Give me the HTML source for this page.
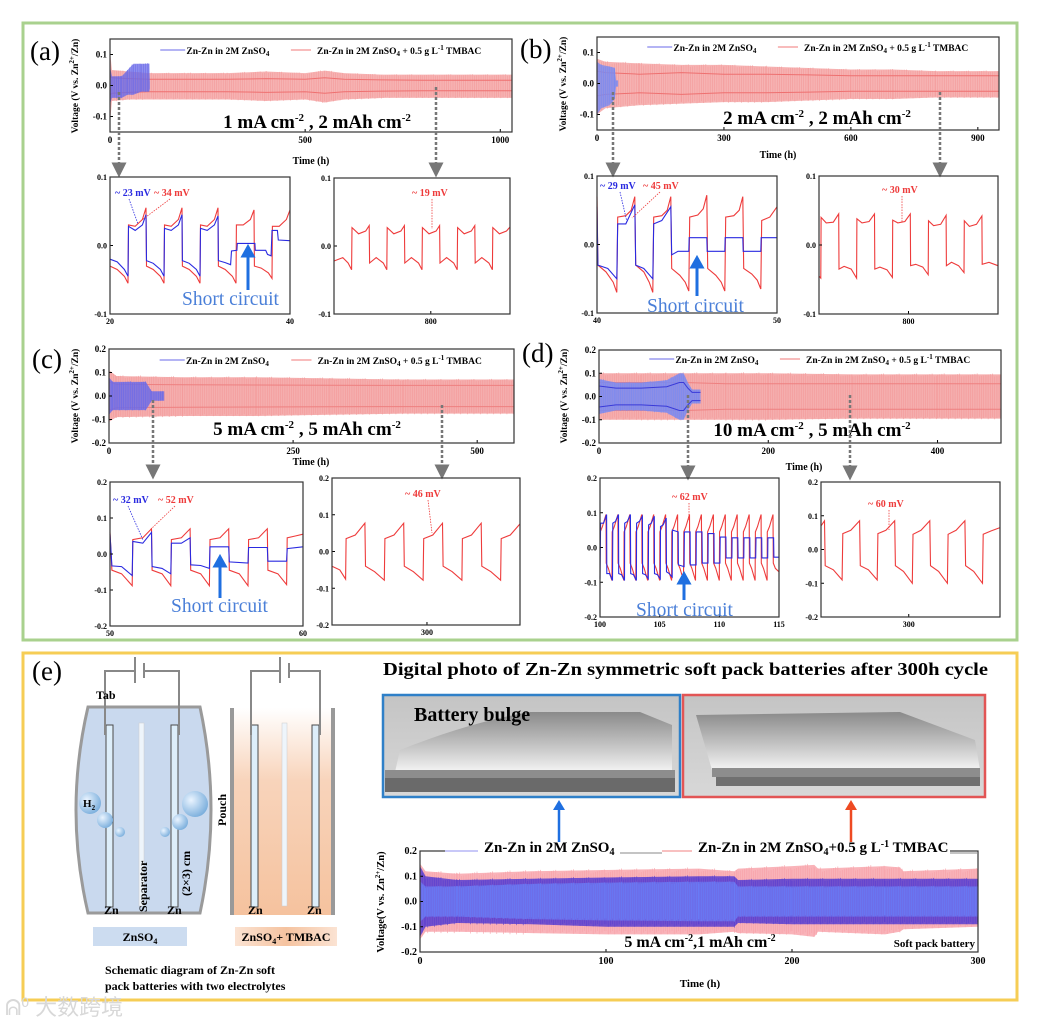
<!DOCTYPE html>
<html><head><meta charset="utf-8"><style>
html,body{margin:0;padding:0;background:#fff;}
svg{display:block;font-family:"Liberation Serif","Noto Serif CJK SC",serif;}
.tk{font-size:9px;font-weight:bold;}
.bold{font-weight:bold;}
</style></head><body>
<svg id="fig" width="1039" height="1027" viewBox="0 0 1039 1027" xmlns="http://www.w3.org/2000/svg">
<defs>
<linearGradient id="peach" x1="0" y1="0" x2="1" y2="0"><stop offset="0" stop-color="#fbe3d3"/><stop offset="0.5" stop-color="#f5c3a0"/><stop offset="1" stop-color="#fbe3d3"/></linearGradient>
<linearGradient id="peachv" x1="0" y1="0" x2="0" y2="1"><stop offset="0" stop-color="#fff"/><stop offset="0.35" stop-color="#f8d4bb"/><stop offset="1" stop-color="#f5c29e"/></linearGradient>
<linearGradient id="photo" x1="0" y1="0" x2="0" y2="1"><stop offset="0" stop-color="#c4c4c4"/><stop offset="1" stop-color="#d8d8d8"/></linearGradient>
<linearGradient id="bag" x1="0" y1="0" x2="0" y2="1"><stop offset="0" stop-color="#8a8a8a"/><stop offset="0.6" stop-color="#c8c8c8"/><stop offset="1" stop-color="#f4f4f4"/></linearGradient>
<radialGradient id="bub" cx="0.35" cy="0.35" r="0.7"><stop offset="0" stop-color="#eaf4ff"/><stop offset="1" stop-color="#7aaedc"/></radialGradient>
<marker id="ah" markerWidth="6" markerHeight="6" refX="3" refY="3" orient="auto"><path d="M0,0 L6,3 L0,6 z" fill="#777"/></marker>
</defs>
<rect x="23" y="23" width="994" height="617" fill="none" stroke="#a9d18e" stroke-width="3"/>
<rect x="23" y="653" width="994" height="347" fill="none" stroke="#f6cd55" stroke-width="3"/>
<g id="charts"></g>
<!-- panel labels -->
<text x="30" y="60" font-size="27">(a)</text>
<text x="520" y="58" font-size="27">(b)</text>
<text x="32" y="368" font-size="27">(c)</text>
<text x="522" y="362" font-size="27">(d)</text>
<text x="32" y="680" font-size="27">(e)</text>

<!-- schematic e -->
<g>
<path d="M88,707 L200,707 Q222,810 200,913 L88,913 Q64,810 88,707 z" fill="#c9d9ee" stroke="#9a9a9a" stroke-width="3"/>
<rect x="230" y="708" width="105" height="207" fill="url(#peachv)"/>
<rect x="230" y="708" width="4" height="207" fill="#999"/><rect x="331" y="708" width="4" height="207" fill="#999"/>
<g fill="#ddeefa" stroke="#4a4a4a" stroke-width="1">
<rect x="106" y="725" width="7" height="182"/><rect x="171" y="725" width="7" height="182"/>
<rect x="251" y="725" width="7" height="182"/><rect x="312" y="725" width="7" height="182"/>
</g>
<rect x="139" y="723" width="5" height="183" fill="#eef5fb" stroke="#ccc" stroke-width="0.5"/>
<rect x="282" y="723" width="5" height="183" fill="#eef5fb" stroke="#ccc" stroke-width="0.5"/>
<g stroke="#888" stroke-width="2" fill="none">
<path d="M105,735 L105,671 L135,671"/><path d="M144,671 L179,671 L179,735"/>
<path d="M135,657 L135,683"/><path d="M144,663 L144,678"/>
<path d="M251,735 L251,671 L280,671"/><path d="M289,671 L320,671 L320,735"/>
<path d="M280,657 L280,683"/><path d="M289,663 L289,678"/>
</g>
<circle cx="90" cy="803" r="11" fill="url(#bub)"/><circle cx="105" cy="820" r="8" fill="url(#bub)"/><circle cx="120" cy="832" r="5" fill="url(#bub)"/>
<circle cx="195" cy="804" r="13" fill="url(#bub)"/><circle cx="180" cy="822" r="8" fill="url(#bub)"/><circle cx="165" cy="832" r="5" fill="url(#bub)"/>
<text x="83" y="807" font-size="11" class="bold">H<tspan font-size="7" dy="3">2</tspan></text>
<text x="96" y="699" font-size="12" class="bold">Tab</text>
<text x="104" y="914" font-size="12" class="bold">Zn</text><text x="167" y="914" font-size="12" class="bold">Zn</text>
<text x="248" y="914" font-size="12" class="bold">Zn</text><text x="307" y="914" font-size="12" class="bold">Zn</text>
<text transform="translate(147,912) rotate(-90)" font-size="12" class="bold">Separator</text>
<text transform="translate(190,896) rotate(-90)" font-size="12" class="bold">(2×3) cm</text>
<text transform="translate(226,826) rotate(-90)" font-size="12" class="bold">Pouch</text>
<rect x="93" y="927" width="94" height="19" fill="#ccdcf0"/>
<text x="140" y="941" font-size="12" class="bold" text-anchor="middle">ZnSO<tspan font-size="8" dy="3">4</tspan></text>
<rect x="235" y="927" width="102" height="19" fill="url(#peach)"/>
<text x="286" y="941" font-size="12" class="bold" text-anchor="middle">ZnSO<tspan font-size="8" dy="3">4</tspan><tspan dy="-3">+ TMBAC</tspan></text>
<text x="105" y="974" font-size="12" class="bold">Schematic diagram of Zn-Zn soft</text>
<text x="105" y="990" font-size="12" class="bold">pack batteries with two electrolytes</text>
</g>
<text x="5" y="1015" font-size="22" fill="#d8d8d8" font-family="Liberation Sans, Noto Sans CJK SC, sans-serif">ᕱ⁰ 大数跨境</text>

<!-- photos -->
<text x="383" y="675" font-size="17.5" class="bold" textLength="605" lengthAdjust="spacingAndGlyphs">Digital photo of Zn-Zn symmetric soft pack batteries after 300h cycle</text>
<g>
<rect x="383" y="695" width="297" height="102" fill="url(#photo)"/>
<path d="M395,772 L400,750 Q470,722 530,712 L640,712 L672,725 L672,772 z" fill="url(#bag)"/>
<rect x="385" y="770" width="290" height="8" fill="#8d8d8d"/>
<rect x="385" y="778" width="290" height="14" fill="#6a6a6a"/>
<rect x="383" y="695" width="297" height="102" fill="none" stroke="#2f80c8" stroke-width="2.5"/>
<text x="414" y="721" font-size="20" class="bold">Battery bulge</text>
</g>
<g>
<rect x="683" y="695" width="302" height="102" fill="url(#photo)"/>
<path d="M696,715 L900,712 L975,740 L980,770 L712,770 z" fill="url(#bag)"/>
<rect x="712" y="768" width="268" height="9" fill="#8d8d8d"/>
<rect x="716" y="777" width="264" height="9" fill="#707070"/>
<rect x="683" y="695" width="302" height="102" fill="none" stroke="#e25555" stroke-width="2.5"/>
</g>
<path d="M559,842 L559,808" stroke="#1f6fe0" stroke-width="2.5"/><path d="M553,810 L559,800 L565,810 z" fill="#1f6fe0"/>
<path d="M851,842 L851,808" stroke="#ee4a22" stroke-width="2.5"/><path d="M845,810 L851,800 L857,810 z" fill="#ee4a22"/>
</svg>
<script>
// ===== data: main cycling envelopes (time h, voltage V) =====
const aRedT=[0,5,50,100,200,300,400,500,550,600,700,800,900,1030];
const aRedHi=[0.11,0.05,0.045,0.04,0.04,0.04,0.045,0.04,0.048,0.04,0.035,0.035,0.035,0.035];
const aRedLo=[-0.12,-0.05,-0.045,-0.045,-0.045,-0.045,-0.05,-0.045,-0.055,-0.045,-0.04,-0.04,-0.04,-0.04];
const aRedIn=[0.03,0.025,0.022,0.02,0.02,0.02,0.022,0.02,0.025,0.02,0.018,0.017,0.017,0.017];
const aBlueT=[0,5,30,45,60,80,100,102];
const aBlueHi=[0.06,0.03,0.03,0.05,0.07,0.07,0.07,0.01];
const aBlueLo=[-0.06,-0.04,-0.04,-0.03,-0.03,-0.02,-0.02,-0.01];

const bRedT=[0,20,100,200,300,400,500,600,700,800,950];
const bRedHi=[0.08,0.07,0.065,0.06,0.06,0.055,0.05,0.045,0.045,0.04,0.04];
const bRedLo=[-0.1,-0.08,-0.07,-0.065,-0.06,-0.06,-0.055,-0.05,-0.05,-0.045,-0.045];
const bRedIn=[0.04,0.035,0.03,0.035,0.03,0.03,0.028,0.025,0.025,0.025,0.025];
const bBlueT=[0,10,30,42,45,50];
const bBlueHi=[0.07,0.06,0.055,0.05,0.01,0.01];
const bBlueLo=[-0.1,-0.08,-0.07,-0.05,-0.01,-0.01];

const cRedT=[0,10,100,200,300,400,550];
const cRedHi=[0.11,0.085,0.08,0.08,0.075,0.07,0.07];
const cRedLo=[-0.11,-0.09,-0.085,-0.085,-0.08,-0.075,-0.075];
const cRedIn=[0.06,0.05,0.048,0.047,0.046,0.045,0.045];
const cBlueT=[0,5,50,56,58,75];
const cBlueHi=[0.08,0.06,0.06,0.03,0.02,0.02];
const cBlueLo=[-0.08,-0.06,-0.06,-0.03,-0.02,-0.02];

const dRedT=[0,50,100,150,200,300,400,475];
const dRedHi=[0.1,0.1,0.1,0.1,0.1,0.095,0.095,0.095];
const dRedLo=[-0.1,-0.1,-0.1,-0.1,-0.1,-0.095,-0.095,-0.095];
const dRedIn=[0.06,0.06,0.06,0.055,0.055,0.055,0.055,0.055];
const dBlueT=[0,20,50,80,95,100,105,110,120];
const dBlueHi=[0.075,0.06,0.06,0.07,0.1,0.1,0.06,0.03,0.03];
const dBlueLo=[-0.075,-0.06,-0.06,-0.07,-0.1,-0.1,-0.06,-0.03,-0.03];

const eRedT=[0,3,20,60,100,150,169,171,200,212,214,250,258,260,300];
const eRedHi=[0.15,0.12,0.11,0.12,0.125,0.13,0.12,0.13,0.14,0.145,0.13,0.14,0.135,0.12,0.13];
const eRedLo=[-0.15,-0.12,-0.12,-0.125,-0.13,-0.13,-0.12,-0.125,-0.13,-0.14,-0.12,-0.13,-0.12,-0.11,-0.1];
const eBlueT=[0,3,20,60,100,150,169,171,200,250,300];
const eBlueHi=[0.14,0.1,0.085,0.09,0.095,0.1,0.1,0.085,0.09,0.09,0.09];
const eBlueLo=[-0.14,-0.1,-0.085,-0.09,-0.1,-0.1,-0.1,-0.085,-0.09,-0.09,-0.09];
const eBlueIn=[0.08,0.06,0.06,0.07,0.075,0.078,0.078,0.06,0.06,0.06,0.06];

// ===== data: zoomed voltage profiles [time h, voltage V] =====
const a1Red=[[20,-0.03],[20.8,-0.035],[21.6,-0.045],[22,-0.055],[22.05,0.03],[22.8,0.028],[23.6,0.038],[24,0.055],[24.05,-0.03],[24.8,-0.035],[25.6,-0.045],[26,-0.055],[26.05,0.03],[26.8,0.028],[27.6,0.038],[28,0.055],[28.05,-0.03],[28.8,-0.035],[29.6,-0.045],[30,-0.055],[30.05,0.03],[30.8,0.028],[31.6,0.038],[32,0.055],[32.05,-0.03],[32.8,-0.035],[33.6,-0.045],[34,-0.055],[34.05,0.03],[34.8,0.03],[35.6,0.038],[36,0.052],[36.05,-0.03],[36.8,-0.033],[37.6,-0.04],[38,-0.048],[38.05,0.028],[38.8,0.028],[39.6,0.038],[40,0.052]];
const a1Blue=[[20,-0.02],[20.8,-0.024],[21.6,-0.035],[22,-0.045],[22.05,0.028],[22.8,0.022],[23.6,0.03],[24,0.045],[24.05,-0.022],[24.8,-0.026],[25.6,-0.035],[26,-0.045],[26.05,0.025],[26.8,0.022],[27.6,0.03],[28,0.045],[28.05,-0.022],[28.8,-0.026],[29.6,-0.035],[30,-0.045],[30.05,0.025],[30.8,0.022],[31.6,0.03],[32,0.043],[32.05,-0.022],[32.8,-0.025],[33.4,-0.028],[33.5,-0.008],[34.1,-0.007],[34.15,0.003],[36.1,0.003],[36.15,-0.007],[37.3,-0.007],[37.5,-0.013],[37.9,-0.015],[38,0.022],[38.6,0.022],[38.7,0.008],[40,0.007]];
const a2Red=[[789,-0.022],[790,-0.017],[790.6,-0.025],[791,-0.035],[791.05,0.027],[791.8,0.018],[792.6,0.022],[793,0.03],[793.05,-0.025],[793.8,-0.017],[794.6,-0.025],[795,-0.035],[795.05,0.027],[795.8,0.018],[796.6,0.022],[797,0.03],[797.05,-0.025],[797.8,-0.017],[798.6,-0.025],[799,-0.035],[799.05,0.027],[799.8,0.018],[800.6,0.022],[801,0.03],[801.05,-0.025],[801.8,-0.017],[802.6,-0.025],[803,-0.035],[803.05,0.027],[803.8,0.018],[804.6,0.022],[805,0.03],[805.05,-0.025],[805.8,-0.017],[806.6,-0.025],[807,-0.035],[807.05,0.027],[807.8,0.018],[808.6,0.022],[809,0.028]];
const b1Red=[[40,0.07],[40.05,-0.03],[40.5,-0.04],[40.9,-0.055],[41.1,-0.07],[41.15,0.04],[41.6,0.042],[41.9,0.05],[42.1,0.07],[42.15,-0.03],[42.6,-0.04],[42.9,-0.055],[43.1,-0.07],[43.15,0.04],[43.6,0.042],[43.9,0.05],[44.1,0.07],[44.15,-0.035],[44.6,-0.045],[44.9,-0.055],[45.1,-0.068],[45.15,0.04],[45.6,0.043],[45.9,0.052],[46.1,0.072],[46.15,-0.035],[46.6,-0.045],[46.9,-0.055],[47.1,-0.068],[47.15,0.04],[47.6,0.042],[47.9,0.05],[48.1,0.07],[48.15,-0.035],[48.6,-0.043],[48.9,-0.052],[49.1,-0.065],[49.15,0.035],[49.6,0.04],[50,0.055]];
const b1Blue=[[40,0.055],[40.05,-0.03],[40.6,-0.035],[41.1,-0.05],[41.15,0.03],[41.6,0.03],[42.1,0.058],[42.15,-0.03],[42.6,-0.035],[43.1,-0.05],[43.15,0.03],[43.6,0.035],[44.1,0.055],[44.15,-0.015],[44.5,-0.01],[45.1,-0.01],[45.12,0.01],[46.1,0.01],[46.12,-0.01],[47.1,-0.01],[47.12,0.01],[48.1,0.01],[48.12,-0.01],[49.1,-0.01],[49.12,0.01],[50,0.01]];
const b2Red=[[795,-0.045],[795.1,-0.048],[795.12,0.04],[795.4,0.032],[795.8,0.033],[796.1,0.045],[796.12,-0.035],[796.4,-0.031],[796.8,-0.035],[797.1,-0.048],[797.12,0.038],[797.4,0.032],[797.8,0.034],[798.1,0.045],[798.12,-0.035],[798.4,-0.032],[798.8,-0.036],[799.1,-0.047],[799.12,0.036],[799.4,0.032],[799.8,0.034],[800.1,0.045],[800.12,-0.03],[800.4,-0.028],[800.8,-0.032],[801.1,-0.043],[801.12,0.035],[801.4,0.028],[801.8,0.03],[802.1,0.043],[802.12,-0.03],[802.4,-0.025],[802.8,-0.03],[803.1,-0.04],[803.12,0.035],[803.4,0.027],[803.8,0.03],[804.1,0.042],[804.12,-0.028],[804.5,-0.025],[805,-0.03]];
const c1Red=[[50,0.06],[50.1,-0.045],[50.6,-0.055],[51.15,-0.088],[51.18,0.04],[51.7,0.045],[52.15,0.07],[52.18,-0.045],[52.7,-0.055],[53.15,-0.088],[53.18,0.04],[53.7,0.045],[54.15,0.07],[54.18,-0.045],[54.7,-0.055],[55.15,-0.088],[55.18,0.04],[55.7,0.045],[56.15,0.07],[56.18,-0.045],[56.7,-0.055],[57.15,-0.088],[57.18,0.04],[57.7,0.045],[58.15,0.07],[58.18,-0.045],[58.7,-0.055],[59.15,-0.085],[59.18,0.045],[59.6,0.05],[60,0.055]];
const c1Blue=[[50,0.055],[50.1,-0.033],[50.6,-0.035],[51.15,-0.06],[51.18,0.035],[51.7,0.03],[52.15,0.06],[52.18,-0.035],[52.7,-0.04],[53.15,-0.055],[53.18,0.03],[53.7,0.03],[54.15,0.045],[54.18,-0.03],[54.7,-0.032],[55.15,-0.04],[55.18,0.02],[56.15,0.02],[56.18,-0.022],[57.15,-0.025],[57.18,0.018],[58.15,0.018],[58.18,-0.02],[59.15,-0.02],[59.18,0.015],[60,0.02]];
const c2Red=[[295.1,-0.04],[295.5,-0.05],[295.8,-0.075],[295.83,0.035],[296.3,0.045],[296.8,0.077],[296.83,-0.04],[297.3,-0.055],[297.8,-0.078],[297.83,0.035],[298.3,0.045],[298.8,0.077],[298.83,-0.04],[299.3,-0.055],[299.8,-0.078],[299.83,0.035],[300.3,0.045],[300.8,0.077],[300.83,-0.04],[301.3,-0.055],[301.8,-0.078],[301.83,0.035],[302.3,0.045],[302.8,0.077],[302.83,-0.04],[303.3,-0.055],[303.8,-0.078],[303.83,0.035],[304.3,0.045],[304.8,0.075]];
const d1Red=[[100,0.04],[100.02,0.045],[100.2,0.06],[100.5,0.095],[100.52,-0.045],[100.7,-0.06],[101,-0.095],[101.02,0.045],[101.2,0.06],[101.5,0.095],[101.52,-0.045],[101.7,-0.06],[102,-0.095],[102.02,0.045],[102.2,0.06],[102.5,0.095],[102.52,-0.045],[102.7,-0.06],[103,-0.095],[103.02,0.045],[103.2,0.06],[103.5,0.095],[103.52,-0.045],[103.7,-0.06],[104,-0.095],[104.02,0.045],[104.2,0.06],[104.5,0.095],[104.52,-0.045],[104.7,-0.06],[105,-0.095],[105.02,0.045],[105.2,0.06],[105.5,0.095],[105.52,-0.045],[105.7,-0.06],[106,-0.095],[106.02,0.045],[106.2,0.06],[106.5,0.095],[106.52,-0.045],[106.7,-0.06],[107,-0.095],[107.02,0.045],[107.2,0.06],[107.5,0.095],[107.52,-0.045],[107.7,-0.06],[108,-0.095],[108.02,0.045],[108.2,0.06],[108.5,0.095],[108.52,-0.045],[108.7,-0.06],[109,-0.095],[109.02,0.045],[109.2,0.06],[109.5,0.095],[109.52,-0.045],[109.7,-0.06],[110,-0.095],[110.02,0.045],[110.2,0.06],[110.5,0.095],[110.52,-0.045],[110.7,-0.06],[111,-0.095],[111.02,0.045],[111.2,0.06],[111.5,0.095],[111.52,-0.045],[111.7,-0.06],[112,-0.095],[112.02,0.045],[112.2,0.06],[112.5,0.095],[112.52,-0.045],[112.7,-0.06],[113,-0.095],[113.02,0.045],[113.2,0.06],[113.5,0.095],[113.52,-0.045],[113.7,-0.06],[114,-0.095],[114.02,0.045],[114.2,0.06],[114.5,0.095],[114.52,-0.045],[114.7,-0.06],[115,-0.07]];
const d1Blue=[[100,-0.09],[100.05,0.07],[100.3,0.07],[100.55,0.095],[100.57,-0.075],[100.8,-0.075],[101.05,-0.095],[101.07,0.07],[101.3,0.075],[101.55,0.095],[101.57,-0.075],[101.8,-0.078],[102.05,-0.095],[102.07,0.07],[102.3,0.075],[102.55,0.095],[102.57,-0.075],[102.8,-0.078],[103.05,-0.095],[103.07,0.07],[103.3,0.075],[103.55,0.09],[103.57,-0.075],[103.8,-0.078],[104.05,-0.09],[104.07,0.065],[104.3,0.07],[104.55,0.09],[104.57,-0.075],[104.8,-0.078],[105.05,-0.09],[105.07,0.06],[105.3,0.065],[105.55,0.085],[105.57,-0.07],[105.8,-0.075],[106.05,-0.085],[106.07,0.05],[106.55,0.045],[106.57,-0.05],[107.05,-0.055],[107.07,0.045],[107.55,0.045],[107.57,-0.05],[108.05,-0.05],[108.07,0.045],[108.55,0.045],[108.57,-0.045],[109.05,-0.045],[109.07,0.04],[109.55,0.04],[109.57,-0.045],[110.05,-0.045],[110.07,0.03],[110.55,0.03],[110.57,-0.03],[111.05,-0.03],[111.07,0.028],[111.55,0.028],[111.57,-0.03],[112.05,-0.03],[112.07,0.028],[112.55,0.028],[112.57,-0.03],[113.05,-0.03],[113.07,0.028],[113.55,0.028],[113.57,-0.03],[114.05,-0.03],[114.07,0.028],[114.55,0.028],[114.57,-0.028],[115,-0.028]];
const d2Red=[[297.5,0.07],[297.6,0.085],[297.62,-0.048],[297.85,-0.06],[298.1,-0.09],[298.12,0.047],[298.35,0.057],[298.6,0.085],[298.62,-0.048],[298.85,-0.06],[299.1,-0.09],[299.12,0.047],[299.35,0.057],[299.6,0.085],[299.62,-0.048],[299.85,-0.065],[300.1,-0.1],[300.12,0.045],[300.35,0.057],[300.6,0.085],[300.62,-0.048],[300.85,-0.065],[301.1,-0.1],[301.12,0.045],[301.35,0.057],[301.6,0.085],[301.62,-0.048],[301.85,-0.065],[302.1,-0.1],[302.12,0.045],[302.35,0.055],[302.6,0.065]];

// ===== axis tick labels =====
const aTicks=[0,500,1000], bTicks=[0,300,600,900], cTicks=[0,250,500], dTicks=[0,200,400], eTicks=[0,100,200,300];
const vTicks1=[-0.1,0.0,0.1], vTicks2=[-0.2,-0.1,0.0,0.1,0.2];

const NS='http://www.w3.org/2000/svg';
const root=document.getElementById('charts');
function mk(tag,attrs,parent){const el=document.createElementNS(NS,tag);for(const k in attrs)el.setAttribute(k,attrs[k]);(parent||root).appendChild(el);return el;}
function scales(p){return{x:t=>p.x0+(t-p.xd[0])/(p.xd[1]-p.xd[0])*(p.x1-p.x0),y:v=>p.y1-(v-p.yd[0])/(p.yd[1]-p.yd[0])*(p.y1-p.y0)};}
function fmt(v){return v===0?'0.0':v.toFixed(1);}
function axes(p,xt,yt,name,fs){
  const g=mk('g',{});
  
  
  const s=scales(p);
  xt.forEach(t=>{mk('line',{x1:s.x(t),x2:s.x(t),y1:p.y1,y2:p.y1-3,stroke:'#000','stroke-width':1},g);
    const tx=mk('text',{x:s.x(t),y:p.y1+fs+2,'text-anchor':'middle','font-size':fs,'font-weight':'bold'},g);tx.textContent=t;
    
    });
  yt.forEach(v=>{mk('line',{x1:p.x0,x2:p.x0+3,y1:s.y(v),y2:s.y(v),stroke:'#000','stroke-width':1},g);
    const tx=mk('text',{x:p.x0-3,y:s.y(v)+3,'text-anchor':'end','font-size':fs,'font-weight':'bold'},g);tx.textContent=fmt(v);
    
    });
  mk('rect',{x:p.x0,y:p.y0,width:p.x1-p.x0,height:p.y1-p.y0,fill:'none',stroke:'#333','stroke-width':1.2},g);
  return g;
}
function band(p,T,H,L,fill,op,name){
  const s=scales(p);
  let d='M'+T.map((t,i)=>s.x(t)+','+s.y(H[i])).join(' L')+' L'+T.map((t,i)=>s.x(t)+','+s.y(L[i])).reverse().join(' L')+' z';
  const el=mk('path',{d:d,fill:fill,'fill-opacity':op});
  
  
  // striped texture: vertical cycle lines
  const g=mk('g',{stroke:fill,'stroke-opacity':Math.min(1,op+0.2),'stroke-width':0.6});
  
  
  for(let i=0;i<T.length-1;i++){const x0=s.x(T[i]),x1=s.x(T[i+1]);
    for(let x=x0;x<x1;x+=2.2){const f=(x-x0)/(x1-x0);const hi=H[i]+(H[i+1]-H[i])*f,lo=L[i]+(L[i+1]-L[i])*f;
      mk('line',{x1:x,x2:x,y1:s.y(hi*(0.9+0.1*((x*7)%3)/2)),y2:s.y(lo*(0.9+0.1*((x*5)%3)/2))},g);}}
}
function envLine(p,T,V,sign,color,name){
  const s=scales(p);
  const el=mk('polyline',{points:T.map((t,i)=>s.x(t)+','+s.y(sign*V[i])).join(' '),fill:'none',stroke:color,'stroke-width':1});
  
  
}
function curve(p,P,color,name){
  const s=scales(p);
  const el=mk('polyline',{points:P.map(q=>s.x(q[0]).toFixed(1)+','+s.y(q[1]).toFixed(1)).join(' '),fill:'none',stroke:color,'stroke-width':1.1});
  
  
}
function txt(x,y,str,fs,attrs,name){
  const el=mk('text',Object.assign({x:x,y:y,'font-size':fs},attrs||{}));
  el.innerHTML=str;
  
  
  return el;
}
function legend(p,y,fs,red){
  const w=p.x1-p.x0;
  const l1=mk('line',{x1:p.x0+0.125*w,x2:p.x0+0.187*w,y1:y-4,y2:y-4,stroke:'#6a6ae8','stroke-width':1});
  
  
  txt(p.x0+0.19*w,y,'Zn-Zn in 2M ZnSO<tspan font-size="7" dy="2">4</tspan>',fs,{'font-weight':'bold'},'legend-entry-znso4');
  const l2=mk('line',{x1:p.x0+0.45*w,x2:p.x0+0.5*w,y1:y-4,y2:y-4,stroke:'#f07a7a','stroke-width':1});
  
  
  txt(p.x0+0.515*w,y,red,fs,{'font-weight':'bold'},'legend-entry-tmbac');
}
function ylab(x,yc,fs,str){const el=txt(0,0,str,fs,{'font-weight':'bold','text-anchor':'middle',transform:'translate('+x+','+yc+') rotate(-90)'},'y-axis-title');}
function arrow(x,y0,y1){const el=mk('line',{x1:x,x2:x,y1:y0,y2:y1,stroke:'#777','stroke-width':2.5,'stroke-dasharray':'3,2','marker-end':'url(#ah)'});
  
  }
function dotted(x1,y1,x2,y2,c){const el=mk('line',{x1:x1,y1:y1,x2:x2,y2:y2,stroke:c,'stroke-width':0.8,'stroke-dasharray':'1.5,1.2'});
  
  }
function scArrow(x,y0,y1){const el=mk('path',{d:`M${x},${y0} L${x},${y1+8} M${x-5},${y1+9} L${x},${y1} L${x+5},${y1+9} z`,stroke:'#1f6fe0','stroke-width':3,fill:'#1f6fe0'});
  
  }
const REDLEG='Zn-Zn in 2M ZnSO<tspan font-size="7" dy="2">4</tspan><tspan dy="-2"> + 0.5 g L</tspan><tspan font-size="7" dy="-4">-1</tspan><tspan dy="4"> TMBAC</tspan>';
const YL='Voltage (V vs. Zn<tspan font-size="7" dy="-4">2+</tspan><tspan dy="4">/Zn)</tspan>';
function cond(x,y,a,b,c,d){return txt(x,y,`${a} mA cm<tspan font-size="11" dy="-7">-2</tspan><tspan dy="7"> ${b} ${c} mAh cm</tspan><tspan font-size="11" dy="-7">-2</tspan>`,19,{'font-weight':'bold','text-anchor':'middle'},'condition-label');}

// ---------- Panel A ----------
const PA={x0:110,x1:512,y0:39,y1:132,xd:[0,1030],yd:[-0.15,0.15]};
band(PA,aRedT,aRedHi,aRedLo,'#f39a9a',0.75,'a-red-band');
envLine(PA,aRedT,aRedIn,1,'#ee7070','a-red-inner-top');envLine(PA,aRedT,aRedIn,-1,'#ee7070','a-red-inner-bottom');
band(PA,aBlueT,aBlueHi,aBlueLo,'#6a6ae8',0.75,'a-blue-band');
axes(PA,aTicks,vTicks1,'a-main-axes',9);
legend(PA,54,9.5,REDLEG);ylab(78,86,9.5,YL);
txt(311,164,'Time (h)',10,{'font-weight':'bold','text-anchor':'middle'},'x-axis-title');
cond(317,128,'1',',','2');
arrow(119,92,170);arrow(436,87,170);
const PA1={x0:110,x1:290,y0:177,y1:314,xd:[20,40],yd:[-0.1,0.1]};
curve(PA1,a1Red,'#ee3b3b','a1-red-line');curve(PA1,a1Blue,'#2a2ae0','a1-blue-line');
axes(PA1,[20,40],vTicks1,'a1-axes',8);
txt(115,196,'~ 23 mV',10,{'font-weight':'bold',fill:'#2a2ae0'},'annot-23mv');txt(154,196,'~ 34 mV',10,{'font-weight':'bold',fill:'#ee3b3b'},'annot-34mv');
dotted(129,199,138,224,'#2a2ae0');dotted(170,199,142,220,'#ee3b3b');
scArrow(248,290,247);txt(182,305,'Short circuit',19.5,{fill:'#4a7fd8'},'short-circuit-label');
const PA2={x0:334,x1:510,y0:178,y1:314,xd:[789,809],yd:[-0.1,0.1]};
curve(PA2,a2Red,'#ee3b3b','a2-red-line');axes(PA2,[800],vTicks1,'a2-axes',8);
txt(412,196,'~ 19 mV',10,{'font-weight':'bold',fill:'#ee3b3b'},'annot-19mv');dotted(432,199,432,229,'#ee3b3b');

// ---------- Panel B ----------
const PB={x0:597,x1:999,y0:37,y1:130,xd:[0,950],yd:[-0.15,0.15]};
band(PB,bRedT,bRedHi,bRedLo,'#f39a9a',0.75,'b-red-band');
envLine(PB,bRedT,bRedIn,1,'#ee7070','b-red-inner-top');envLine(PB,bRedT,bRedIn,-1,'#ee7070','b-red-inner-bottom');
band(PB,bBlueT,bBlueHi,bBlueLo,'#7a8af0',0.8,'b-blue-band');
axes(PB,bTicks,vTicks1,'b-main-axes',9);
legend(PB,51,9.5,REDLEG);ylab(566,84,9.5,YL);
txt(778,158,'Time (h)',10,{'font-weight':'bold','text-anchor':'middle'},'x-axis-title');
cond(817,124,'2',',','2');
arrow(613,92,170);arrow(940,92,170);
const PB1={x0:597,x1:777,y0:176,y1:313,xd:[40,50],yd:[-0.1,0.1]};
curve(PB1,b1Red,'#ee3b3b','b1-red-line');curve(PB1,b1Blue,'#2a2ae0','b1-blue-line');
axes(PB1,[40,50],vTicks1,'b1-axes',8);
txt(600,189,'~ 29 mV',10,{'font-weight':'bold',fill:'#2a2ae0'},'annot-29mv');txt(643,189,'~ 45 mV',10,{'font-weight':'bold',fill:'#ee3b3b'},'annot-45mv');
dotted(620,192,627,222,'#2a2ae0');dotted(660,192,632,218,'#ee3b3b');
scArrow(697,296,258);txt(647,312,'Short circuit',19.5,{fill:'#4a7fd8'},'short-circuit-label');
const PB2={x0:819,x1:998,y0:176,y1:314,xd:[795,805],yd:[-0.1,0.1]};
curve(PB2,b2Red,'#ee3b3b','b2-red-line');axes(PB2,[800],vTicks1,'b2-axes',8);
txt(882,193,'~ 30 mV',10,{'font-weight':'bold',fill:'#ee3b3b'},'annot-30mv');dotted(902,196,902,222,'#ee3b3b');

// ---------- Panel C ----------
const PC={x0:109,x1:514,y0:349,y1:443,xd:[0,550],yd:[-0.2,0.2]};
band(PC,cRedT,cRedHi,cRedLo,'#f39a9a',0.8,'c-red-band');
envLine(PC,cRedT,cRedIn,1,'#ee8080','c-red-inner-top');envLine(PC,cRedT,cRedIn,-1,'#ee8080','c-red-inner-bottom');
band(PC,cBlueT,cBlueHi,cBlueLo,'#6a6ae8',0.8,'c-blue-band');
axes(PC,cTicks,vTicks2,'c-main-axes',9);
legend(PC,364,9.5,REDLEG);ylab(78,396,9.5,YL);
txt(311,465,'Time (h)',10,{'font-weight':'bold','text-anchor':'middle'},'x-axis-title');
cond(307,435,'5',',','5');
arrow(153,400,472);arrow(442,405,472);
const PC1={x0:110,x1:303,y0:482,y1:626,xd:[50,60],yd:[-0.2,0.2]};
curve(PC1,c1Red,'#ee3b3b','c1-red-line');curve(PC1,c1Blue,'#2a2ae0','c1-blue-line');
axes(PC1,[50,60],vTicks2,'c1-axes',8);
txt(113,503,'~ 32 mV',10,{'font-weight':'bold',fill:'#2a2ae0'},'annot-32mv');txt(158,503,'~ 52 mV',10,{'font-weight':'bold',fill:'#ee3b3b'},'annot-52mv');
dotted(128,506,143,540,'#2a2ae0');dotted(175,506,150,530,'#ee3b3b');
scArrow(220,598,557);txt(171,612,'Short circuit',19.5,{fill:'#4a7fd8'},'short-circuit-label');
const PC2={x0:332,x1:520,y0:478,y1:625,xd:[295.1,304.8],yd:[-0.2,0.2]};
curve(PC2,c2Red,'#ee3b3b','c2-red-line');axes(PC2,[300],vTicks2,'c2-axes',8);
txt(405,497,'~ 46 mV',10,{'font-weight':'bold',fill:'#ee3b3b'},'annot-46mv');dotted(428,500,432,533,'#ee3b3b');

// ---------- Panel D ----------
const PD={x0:599,x1:1001,y0:350,y1:443,xd:[0,475],yd:[-0.2,0.2]};
band(PD,dRedT,dRedHi,dRedLo,'#f39a9a',0.8,'d-red-band');
envLine(PD,dRedT,dRedIn,1,'#ee8080','d-red-inner-top');envLine(PD,dRedT,dRedIn,-1,'#ee8080','d-red-inner-bottom');
band(PD,dBlueT,dBlueHi,dBlueLo,'#7a8af0',0.85,'d-blue-band');
envLine(PD,dBlueT,dBlueHi.map(v=>v*0.6),1,'#3a3ad8','d-blue-inner-top');envLine(PD,dBlueT,dBlueHi.map(v=>v*0.6),-1,'#3a3ad8','d-blue-inner-bottom');
axes(PD,dTicks,vTicks2,'d-main-axes',9);
legend(PD,363,9.5,REDLEG);ylab(567,396,9.5,YL);
txt(804,470,'Time (h)',10,{'font-weight':'bold','text-anchor':'middle'},'x-axis-title');
cond(812,436,'10',',','5');
arrow(688,395,473);arrow(850,395,473);
const PD1={x0:600,x1:779,y0:478,y1:617,xd:[100,115],yd:[-0.2,0.2]};
curve(PD1,d1Red,'#ee3b3b','d1-red-line');curve(PD1,d1Blue,'#2a2ae0','d1-blue-line');
axes(PD1,[100,105,110,115],vTicks2,'d1-axes',8);
txt(672,500,'~ 62 mV',10,{'font-weight':'bold',fill:'#ee3b3b'},'annot-62mv');dotted(689,503,689,520,'#ee3b3b');
scArrow(684,600,574);txt(636,616,'Short circuit',19.5,{fill:'#4a7fd8'},'short-circuit-label');
const PD2={x0:821,x1:1000,y0:482,y1:617,xd:[297.5,302.6],yd:[-0.2,0.2]};
curve(PD2,d2Red,'#ee3b3b','d2-red-line');axes(PD2,[300],vTicks2,'d2-axes',8);
txt(868,507,'~ 60 mV',10,{'font-weight':'bold',fill:'#ee3b3b'},'annot-60mv');dotted(889,510,889,530,'#ee3b3b');

// ---------- Panel E chart ----------
const PE={x0:420,x1:978,y0:851,y1:952,xd:[0,300],yd:[-0.2,0.2]};
band(PE,eRedT,eRedHi,eRedLo,'#f7a0a8',0.8,'e-red-band');
band(PE,eBlueT,eBlueHi,eBlueLo,'#5a3fd0',0.85,'e-blue-band');
band(PE,eBlueT,eBlueIn,eBlueIn.map(v=>-v),'#6a86ff',0.55,'e-blue-inner-band');
axes(PE,eTicks,vTicks2,'e-axes',10);
const gl=mk('rect',{x:470,y:838,width:480,height:16,fill:'#fff'});


mk('line',{x1:445,x2:478,y1:851,y2:851,stroke:'#c8c8f8','stroke-width':2});
txt(484,852,'Zn-Zn in 2M ZnSO<tspan font-size="10" dy="3">4</tspan>',15,{'font-weight':'bold'},'legend-entry-znso4');
mk('line',{x1:620,x2:662,y1:853,y2:853,stroke:'#888','stroke-width':1});
mk('line',{x1:662,x2:692,y1:851,y2:851,stroke:'#f8c0c0','stroke-width':2});
txt(698,852,'Zn-Zn in 2M ZnSO<tspan font-size="10" dy="3">4</tspan><tspan dy="-3">+0.5 g L</tspan><tspan font-size="10" dy="-5">-1</tspan><tspan dy="5"> TMBAC</tspan>',15,{'font-weight':'bold'},'legend-entry-tmbac');
mk('line',{x1:950,x2:978,y1:853,y2:853,stroke:'#888','stroke-width':1});
ylab(384,902,10.5,'Voltage(V vs. Zn<tspan font-size="7" dy="-4">2+</tspan><tspan dy="4">/Zn)</tspan>');
txt(700,987,'Time (h)',11,{'font-weight':'bold','text-anchor':'middle'},'x-axis-title');
txt(700,947,'5 mA cm<tspan font-size="10" dy="-6">-2</tspan><tspan dy="6">,1 mAh cm</tspan><tspan font-size="10" dy="-6">-2</tspan>',16,{'font-weight':'bold','text-anchor':'middle'},'condition-label');
txt(975,947,'Soft pack battery',11,{'font-weight':'bold','text-anchor':'end'},'soft-pack-label');
</script>
</body></html>
